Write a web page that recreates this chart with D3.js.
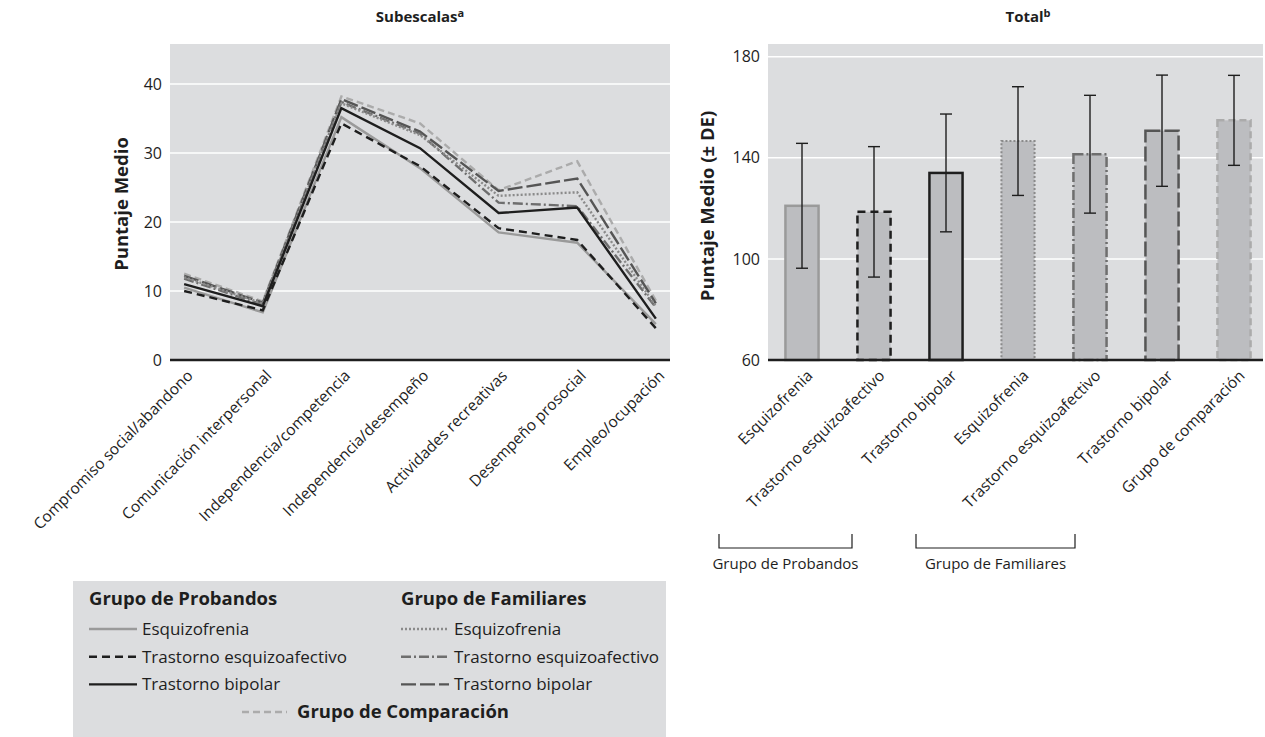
<!DOCTYPE html>
<html>
<head>
<meta charset="utf-8">
<script src="https://cdn.jsdelivr.net/npm/d3@7"></script>
<style>
  body { margin: 0; background: #fff; }
  svg { display: block; font-family: 'Open Sans', sans-serif; }
</style>
</head>
<body>
<div id="container"></div>
<script>
const width = 1265
const height = 737

//-----------------------------DATA-----------------------------//
const subscales = ['Compromiso social/abandono', 'Comunicación interpersonal', 'Independencia/competencia',
    'Independencia/desempeño', 'Actividades recreativas', 'Desempeño prosocial', 'Empleo/ocupación']
const probEsq = [10.5, 6.9, 35.2, 27.8, 18.5, 17.0, 5.2]
const probEA = [10.0, 7.2, 34.3, 28.1, 19.1, 17.4, 4.6]
const probBip = [11.0, 7.8, 36.5, 30.7, 21.3, 22.1, 6.0]
const famEsq = [12.0, 8.2, 37.2, 32.6, 23.8, 24.3, 7.8]
const famEA = [11.8, 8.0, 37.4, 32.8, 22.8, 22.3, 7.6]
const famBip = [12.2, 8.3, 37.8, 33.1, 24.5, 26.3, 8.2]
const comparacion = [12.5, 8.5, 38.2, 34.3, 24.6, 28.8, 8.6]
const leftTicks = [0, 10, 20, 30, 40]

const totalGroups = ['Esquizofrenia', 'Trastorno esquizoafectivo', 'Trastorno bipolar',
    'Esquizofrenia', 'Trastorno esquizoafectivo', 'Trastorno bipolar', 'Grupo de comparación']
const totalMean = [121.0, 118.6, 134.0, 146.6, 141.4, 150.7, 154.8]
const totalSD = [24.7, 25.8, 23.3, 21.5, 23.3, 22.0, 17.8]
const rightTicks = [60, 100, 140, 180]

// line styles, same order for lines and bars
const styles = [
    { stroke: '#9a9a9a', dash: null },            // probandos esquizofrenia
    { stroke: '#1e1e1e', dash: '8,5' },           // probandos esquizoafectivo
    { stroke: '#1e1e1e', dash: null },            // probandos bipolar
    { stroke: '#8a8a8a', dash: '2,2' },           // familiares esquizofrenia
    { stroke: '#6e6e6e', dash: '10,3,2,3' },      // familiares esquizoafectivo
    { stroke: '#555555', dash: '15,4' },          // familiares bipolar
    { stroke: '#ababab', dash: '7,4' }            // comparacion
]
const series = [probEsq, probEA, probBip, famEsq, famEA, famBip, comparacion]
const legendNames = ['Esquizofrenia', 'Trastorno esquizoafectivo', 'Trastorno bipolar']

const bg = '#dcdddf'
const dark = '#1e1e1e'

const svg = d3.select('#container').append('svg')
    .attr('width', width)
    .attr('height', height)

//----------------------------LEFT CHART------------------------//
const L = { left: 170, right: 670, top: 44, bottom: 360 }
const xL = d3.scalePoint().domain(subscales).range([L.left, L.right]).padding(0.18)
const yL = d3.scaleLinear().domain([0, 45.8]).range([L.bottom, L.top])

svg.append('rect')
    .attr('x', L.left).attr('y', L.top)
    .attr('width', L.right - L.left).attr('height', L.bottom - L.top)
    .attr('fill', bg)

svg.append('g').selectAll('line')
    .data(leftTicks.filter(d => d > 0))
    .enter().append('line')
    .attr('x1', L.left).attr('x2', L.right)
    .attr('y1', d => yL(d)).attr('y2', d => yL(d))
    .attr('stroke', '#fff').attr('stroke-width', 1.5)

svg.append('g')
    .attr('transform', `translate(${L.left},0)`)
    .call(d3.axisLeft(yL).tickValues(leftTicks).tickSize(0).tickPadding(8))
    .call(g => g.select('.domain').remove())
    .selectAll('text')
    .attr('font-family', 'Open Sans').attr('font-size', 16).attr('fill', dark)

const line = d3.line()
    .x((d, i) => xL(subscales[i]))
    .y(d => yL(d))

// draw back-to-front so the probandos lines sit on top
const drawOrder = [6, 5, 4, 3, 0, 1, 2]
svg.append('g').selectAll('path')
    .data(drawOrder)
    .enter().append('path')
    .attr('d', i => line(series[i]))
    .attr('fill', 'none')
    .attr('stroke', i => styles[i].stroke)
    .attr('stroke-dasharray', i => styles[i].dash)
    .attr('stroke-width', 2.4)
    .attr('stroke-linejoin', 'miter')

svg.append('line')
    .attr('x1', L.left).attr('x2', L.right)
    .attr('y1', L.bottom).attr('y2', L.bottom)
    .attr('stroke', dark).attr('stroke-width', 2.5)

svg.append('g').selectAll('text')
    .data(subscales)
    .enter().append('text')
    .attr('transform', d => `translate(${xL(d) + 2},${L.bottom + 9}) rotate(-45)`)
    .attr('dy', '0.7em')
    .attr('text-anchor', 'end')
    .attr('font-size', 15.5)
    .attr('fill', dark)
    .text(d => d)

svg.append('text')
    .attr('transform', `translate(128,${(L.top + L.bottom) / 2 + 2}) rotate(-90)`)
    .attr('text-anchor', 'middle')
    .attr('font-size', 18.5).attr('font-weight', 'bold').attr('fill', dark)
    .text('Puntaje Medio')

const t1 = svg.append('text')
    .attr('x', (L.left + L.right) / 2).attr('y', 22)
    .attr('text-anchor', 'middle')
    .attr('font-size', 15).attr('font-weight', 'bold').attr('fill', dark)
t1.append('tspan').text('Subescalas')
t1.append('tspan').attr('font-size', 11).attr('dy', -5).text('a')

//----------------------------RIGHT CHART-----------------------//
const R = { left: 768, right: 1263, top: 44, bottom: 360 }
const idx = d3.range(totalGroups.length)
const xR = d3.scaleBand().domain(idx).range([766, 1270]).paddingInner(0.54).paddingOuter(0.27)
const yR = d3.scaleLinear().domain([60, 185]).range([R.bottom, R.top])

svg.append('rect')
    .attr('x', R.left).attr('y', R.top)
    .attr('width', R.right - R.left).attr('height', R.bottom - R.top)
    .attr('fill', bg)

svg.append('g').selectAll('line')
    .data(rightTicks.filter(d => d > 60))
    .enter().append('line')
    .attr('x1', R.left).attr('x2', R.right)
    .attr('y1', d => yR(d)).attr('y2', d => yR(d))
    .attr('stroke', '#fff').attr('stroke-width', 1.5)

svg.append('g')
    .attr('transform', `translate(${R.left},0)`)
    .call(d3.axisLeft(yR).tickValues(rightTicks).tickSize(0).tickPadding(8))
    .call(g => g.select('.domain').remove())
    .selectAll('text')
    .attr('font-family', 'Open Sans').attr('font-size', 16).attr('fill', dark)

const bars = svg.append('g').selectAll('g')
    .data(idx)
    .enter().append('g')

bars.append('rect')
    .attr('x', i => xR(i))
    .attr('y', i => yR(totalMean[i]))
    .attr('width', xR.bandwidth())
    .attr('height', i => yR(60) - yR(totalMean[i]))
    .attr('fill', '#bcbdc0')
    .attr('stroke', i => styles[i].stroke)
    .attr('stroke-dasharray', i => styles[i].dash)
    .attr('stroke-width', i => i === 3 ? 2 : 2.5)

const errG = bars.append('g').attr('stroke', dark).attr('stroke-width', 1.4)
errG.append('line')
    .attr('x1', i => xR(i) + xR.bandwidth() / 2).attr('x2', i => xR(i) + xR.bandwidth() / 2)
    .attr('y1', i => yR(totalMean[i] + totalSD[i])).attr('y2', i => yR(totalMean[i] - totalSD[i]))
errG.append('line')
    .attr('x1', i => xR(i) + xR.bandwidth() / 2 - 6).attr('x2', i => xR(i) + xR.bandwidth() / 2 + 6)
    .attr('y1', i => yR(totalMean[i] + totalSD[i])).attr('y2', i => yR(totalMean[i] + totalSD[i]))
errG.append('line')
    .attr('x1', i => xR(i) + xR.bandwidth() / 2 - 6).attr('x2', i => xR(i) + xR.bandwidth() / 2 + 6)
    .attr('y1', i => yR(totalMean[i] - totalSD[i])).attr('y2', i => yR(totalMean[i] - totalSD[i]))

svg.append('line')
    .attr('x1', R.left).attr('x2', R.right)
    .attr('y1', R.bottom).attr('y2', R.bottom)
    .attr('stroke', dark).attr('stroke-width', 2.5)

svg.append('g').selectAll('text')
    .data(idx)
    .enter().append('text')
    .attr('transform', i => `translate(${xR(i) + xR.bandwidth() / 2 + 4},${R.bottom + 9}) rotate(-45)`)
    .attr('dy', '0.7em')
    .attr('text-anchor', 'end')
    .attr('font-size', 15.5)
    .attr('fill', dark)
    .text(i => totalGroups[i])

svg.append('text')
    .attr('transform', `translate(714,${(R.top + R.bottom) / 2 + 4}) rotate(-90)`)
    .attr('text-anchor', 'middle')
    .attr('font-size', 18.5).attr('font-weight', 'bold').attr('fill', dark)
    .text('Puntaje Medio (± DE)')

const t2 = svg.append('text')
    .attr('x', 1028).attr('y', 22)
    .attr('text-anchor', 'middle')
    .attr('font-size', 15).attr('font-weight', 'bold').attr('fill', dark)
t2.append('tspan').text('Total')
t2.append('tspan').attr('font-size', 11).attr('dy', -5).text('b')

// group brackets under the rotated labels
const cx = i => xR(i) + xR.bandwidth() / 2
const brackets = [
    { name: 'Grupo de Probandos', x0: cx(0) - 83, x1: cx(1) - 22 },
    { name: 'Grupo de Familiares', x0: cx(3) - 102, x1: cx(4) - 15 }
]
const br = svg.append('g').selectAll('g').data(brackets).enter().append('g')
br.append('path')
    .attr('d', d => `M${d.x0},534V548H${d.x1}V534`)
    .attr('fill', 'none').attr('stroke', dark).attr('stroke-width', 1.2)
br.append('text')
    .attr('x', d => (d.x0 + d.x1) / 2).attr('y', 569)
    .attr('text-anchor', 'middle').attr('font-size', 15).attr('fill', dark)
    .text(d => d.name)

//----------------------------LEGEND----------------------------//
svg.append('rect')
    .attr('x', 73).attr('y', 581).attr('width', 593).attr('height', 160)
    .attr('fill', bg)

const cols = [
    { x: 89, title: 'Grupo de Probandos', items: [0, 1, 2] },
    { x: 401, title: 'Grupo de Familiares', items: [3, 4, 5] }
]
cols.forEach(c => {
    svg.append('text')
        .attr('x', c.x).attr('y', 605)
        .attr('font-size', 18.5).attr('font-weight', 'bold').attr('fill', dark)
        .text(c.title)
    c.items.forEach((s, k) => {
        const y = 629 + k * 27.7
        svg.append('line')
            .attr('x1', c.x).attr('x2', c.x + 48)
            .attr('y1', y).attr('y2', y)
            .attr('stroke', styles[s].stroke)
            .attr('stroke-dasharray', styles[s].dash)
            .attr('stroke-width', 2.4)
        svg.append('text')
            .attr('x', c.x + 53).attr('y', y + 6)
            .attr('font-size', 17).attr('fill', dark)
            .text(legendNames[k])
    })
})
svg.append('line')
    .attr('x1', 242).attr('x2', 287)
    .attr('y1', 712).attr('y2', 712)
    .attr('stroke', styles[6].stroke)
    .attr('stroke-dasharray', styles[6].dash)
    .attr('stroke-width', 2.4)
svg.append('text')
    .attr('x', 297).attr('y', 718)
    .attr('font-size', 18.5).attr('font-weight', 'bold').attr('fill', dark)
    .text('Grupo de Comparación')
</script>
</body>
</html>
